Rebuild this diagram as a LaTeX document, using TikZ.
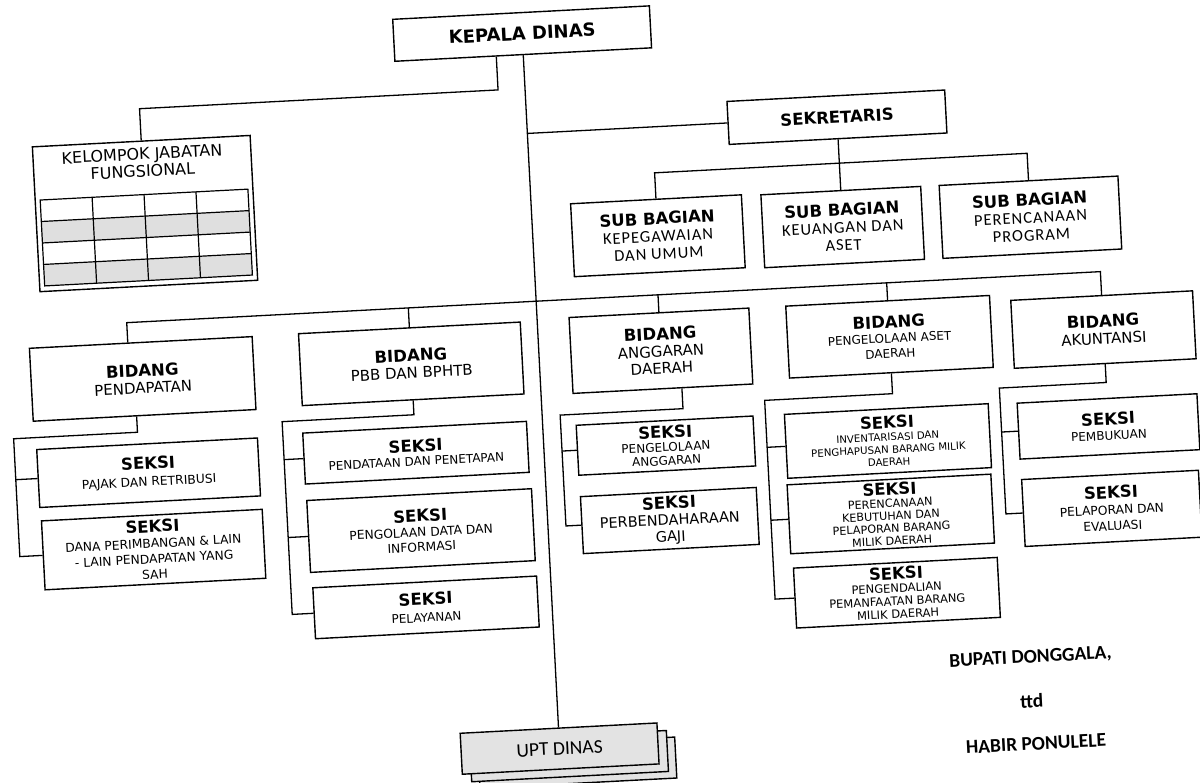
\documentclass[tikz,border=0pt]{standalone}
\usepackage{fontspec}
\setmainfont{DejaVu Sans}
\newfontfamily\calfont{Carlito}
\newfontfamily\calwide[LetterSpace=6]{Carlito}
\newcommand{\fsz}[2]{\fontsize{#1}{#2}\selectfont}
\newcommand{\hdr}[1]{{\normalfont\fsz{16.5}{17}\bfseries #1}\\}

\begin{document}
\begin{tikzpicture}[x=1pt, y=-1pt,
  unit/.style={draw, line width=1.4pt, fill=white, inner sep=1pt, align=center},
  upt/.style={unit, fill=gray!22, minimum width=197pt, minimum height=41pt, font=\calfont\fsz{19.5}{20}},
  sign/.style={font=\calfont\bfseries\fsz{19.5}{20}},
  link/.style={line width=1.3pt}]
\useasboundingbox (0,0) rectangle (1200,783);
\fill[white] (0,0) rectangle (1200,783);

\begin{scope}[rotate around={3:(600,392)}, transform shape]
% pimpinan
\node[unit, minimum width=257pt, minimum height=42pt, font=\bfseries\fsz{18}{20}] (kepala) at (541,30) {KEPALA DINAS};
\node[unit, minimum width=218pt, minimum height=43pt, font=\bfseries\fsz{16.5}{18}] (sekretaris) at (851,130) {SEKRETARIS};
\node[unit, minimum width=218pt, minimum height=145pt] (kelompok) at (155,190) {};
\node[anchor=north, align=center, font=\fsz{16}{17}] (kelompok-t) at ([yshift=-4pt]kelompok.north) {KELOMPOK JABATAN\\FUNGSIONAL};
\fill[gray!25] (51,192.5) rectangle (259,214) (51,235.5) rectangle (259,257);
\draw[line width=1.2pt] (51,171) rectangle (259,257);
\foreach \c in {103,155,207} \draw[line width=1.2pt] (\c,171) -- (\c,257);
\foreach \r in {192.5,214,235.5} \draw[line width=1.2pt] (51,\r) -- (259,\r);

% sub bagian
\node[unit, minimum width=171pt, minimum height=73pt, font=\calwide\fsz{16.5}{17.5}] (kepegawaian) at (666,239) {\hdr{SUB BAGIAN}KEPEGAWAIAN\\DAN UMUM};
\node[unit, minimum width=160pt, minimum height=73pt, font=\calwide\fsz{16.5}{17.5}] (keuangan) at (851,240) {\hdr{SUB BAGIAN}KEUANGAN DAN\\ASET};
\node[unit, minimum width=179pt, minimum height=73pt, font=\calwide\fsz{16.5}{17.5}] (perencanaan) at (1039,240) {\hdr{SUB BAGIAN}PERENCANAAN\\PROGRAM};

% bidang
\node[unit, minimum width=223pt, minimum height=73pt, font=\fsz{15}{17}] (pendapatan) at (144,355) {\hdr{BIDANG}PENDAPATAN};
\node[unit, minimum width=222pt, minimum height=72pt, font=\fsz{15}{17}] (pbb) at (413,354) {\hdr{BIDANG}PBB DAN BPHTB};
\node[unit, minimum width=180pt, minimum height=76pt, font=\fsz{15}{17}] (anggaran) at (663,354) {\hdr{BIDANG}ANGGARAN\\DAERAH};
\node[unit, minimum width=204pt, minimum height=72pt, font=\fsz{12}{15}] (aset) at (892,352) {\hdr{BIDANG}PENGELOLAAN ASET\\DAERAH};
\node[unit, minimum width=182pt, minimum height=68pt, font=\fsz{15}{17}] (akuntansi) at (1106,356) {\hdr{BIDANG}AKUNTANSI};

% seksi
\node[unit, minimum width=221pt, minimum height=58pt, font=\fsz{12.3}{17}] (pajak) at (145,449) {\hdr{SEKSI}PAJAK DAN RETRIBUSI};
\node[unit, minimum width=221pt, minimum height=69pt, font=\fsz{12.3}{15.5}] (dana) at (146,526) {\hdr{SEKSI}DANA PERIMBANGAN \& LAIN\\- LAIN PENDAPATAN YANG\\SAH};
\node[unit, minimum width=224pt, minimum height=51pt, font=\fsz{12}{14}] (pendataan) at (413,443) {\hdr{SEKSI}PENDATAAN DAN PENETAPAN};
\node[unit, minimum width=225pt, minimum height=72pt, font=\fsz{12.3}{15}] (pengolaan) at (414,521) {\hdr{SEKSI}PENGOLAAN DATA DAN\\INFORMASI};
\node[unit, minimum width=224pt, minimum height=51pt, font=\fsz{12}{17}] (pelayanan) at (415,598) {\hdr{SEKSI}PELAYANAN};
\node[unit, minimum width=177pt, minimum height=50pt, font=\fsz{12}{13.5}] (pengelolaan) at (663,449) {\hdr{SEKSI}PENGELOLAAN\\ANGGARAN};
\node[unit, minimum width=176pt, minimum height=57pt, font=\fsz{14.5}{16.5}] (gaji) at (663,524) {\hdr{SEKSI}PERBENDAHARAAN\\GAJI};
\node[unit, minimum width=204pt, minimum height=64pt, font=\fsz{10.2}{12.5}] (inventarisasi) at (885,456) {\hdr{SEKSI}INVENTARISASI DAN\\PENGHAPUSAN BARANG MILIK\\DAERAH};
\node[unit, minimum width=204pt, minimum height=69pt, font=\fsz{11.2}{12.5}] (kebutuhan) at (884,529) {\hdr{SEKSI}PERENCANAAN\\KEBUTUHAN DAN\\PELAPORAN BARANG\\MILIK DAERAH};
\node[unit, minimum width=204pt, minimum height=60pt, font=\fsz{11.5}{13}] (pengendalian) at (886,608) {\hdr{SEKSI}PENGENDALIAN\\PEMANFAATAN BARANG\\MILIK DAERAH};
\node[unit, minimum width=180pt, minimum height=56pt, font=\fsz{12}{15}] (pembukuan) at (1106,453) {\hdr{SEKSI}PEMBUKUAN};
\node[unit, minimum width=177pt, minimum height=67pt, font=\fsz{12.3}{16}] (pelaporan) at (1105,535) {\hdr{SEKSI}PELAPORAN DAN\\EVALUASI};

% upt
\node[upt] (upt-c) at (558,761) {};
\node[upt] (upt-b) at (550,754) {};
\node[upt] (upt) at (541,746) {UPT DINAS};

\node[sign] (bupati) at (1016,680) {BUPATI DONGGALA,};
\node[sign] (ttd) at (1015,723) {ttd};
\node[sign] (habir) at (1017,766) {HABIR PONULELE};

% garis
\coordinate (sp-sek) at (541,130);
\coordinate (kel-bend) at (514,85);
\coordinate (sb-bar) at (851,176);
\coordinate (bd-left) at (131,298);
\draw[link] (kepala.south) -- (upt.north);
\draw[link] (sp-sek) -- (sekretaris.west);
\draw[link] (kepala.south -| kel-bend) -- (kel-bend) -| (kelompok.north);
\draw[link] (sekretaris.south) -- (keuangan.north);
\draw[link] (kepegawaian.north) |- (sb-bar) -| (perencanaan.north);
\draw[link] (pendapatan.north -| bd-left) -- (bd-left) -| (akuntansi.north);
\foreach \n in {pbb,anggaran,aset} \draw[link] (\n.north) -- (\n.north |- bd-left);

\coordinate (pd-drop) at (136,408);
\coordinate (pd-bus) at (12,408);
\draw[link] (pendapatan.south -| pd-drop) -- (pd-drop) -- (pd-bus) |- (dana.west);
\draw[link] (pd-bus |- pajak.west) -- (pajak.west);

\coordinate (pb-bus) at (281,405);
\draw[link] (pbb.south) |- (pb-bus) |- (pelayanan.west);
\foreach \n in {pendataan,pengolaan} \draw[link] (pb-bus |- \n.west) -- (\n.west);

\coordinate (ag-drop) at (682,413);
\coordinate (ag-bus) at (559,413);
\draw[link] (anggaran.south -| ag-drop) -- (ag-drop) -- (ag-bus) |- (gaji.west);
\draw[link] (ag-bus |- pengelolaan.west) -- (pengelolaan.west);

\coordinate (as-bus) at (764,409);
\draw[link] (aset.south) |- (as-bus) |- (pengendalian.west);
\foreach \n in {inventarisasi,kebutuhan} \draw[link] (as-bus |- \n.west) -- (\n.west);

\coordinate (ak-bus) at (999,409);
\draw[link] (akuntansi.south) |- (ak-bus) |- (pelaporan.west);
\draw[link] (ak-bus |- pembukuan.west) -- (pembukuan.west);
\end{scope}
\end{tikzpicture}
\end{document}
